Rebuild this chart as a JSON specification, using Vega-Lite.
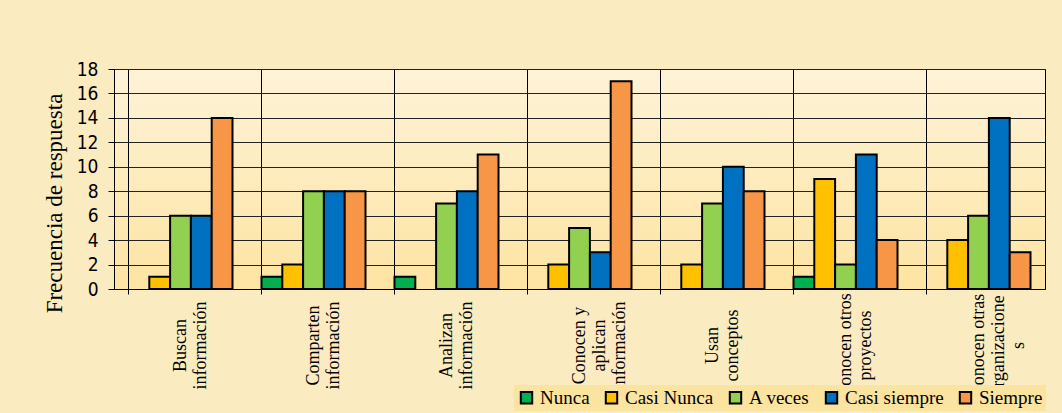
{
  "$schema": "https://vega.github.io/schema/vega-lite/v6.json",
  "width": 931,
  "height": 220,
  "autosize": {"type": "none"},
  "padding": {"left": 114, "top": 69, "right": 17, "bottom": 124},
  "background": "#FBEBC0",
  "data": {
    "values": [
      {"categoria": "Buscan|información", "respuesta": "Casi Nunca", "frecuencia": 1},
      {"categoria": "Buscan|información", "respuesta": "A veces", "frecuencia": 6},
      {"categoria": "Buscan|información", "respuesta": "Casi siempre", "frecuencia": 6},
      {"categoria": "Buscan|información", "respuesta": "Siempre", "frecuencia": 14},
      {"categoria": "Comparten|información", "respuesta": "Nunca", "frecuencia": 1},
      {"categoria": "Comparten|información", "respuesta": "Casi Nunca", "frecuencia": 2},
      {"categoria": "Comparten|información", "respuesta": "A veces", "frecuencia": 8},
      {"categoria": "Comparten|información", "respuesta": "Casi siempre", "frecuencia": 8},
      {"categoria": "Comparten|información", "respuesta": "Siempre", "frecuencia": 8},
      {"categoria": "Analizan|información", "respuesta": "Nunca", "frecuencia": 1},
      {"categoria": "Analizan|información", "respuesta": "A veces", "frecuencia": 7},
      {"categoria": "Analizan|información", "respuesta": "Casi siempre", "frecuencia": 8},
      {"categoria": "Analizan|información", "respuesta": "Siempre", "frecuencia": 11},
      {"categoria": "Conocen y|aplican|información", "respuesta": "Casi Nunca", "frecuencia": 2},
      {"categoria": "Conocen y|aplican|información", "respuesta": "A veces", "frecuencia": 5},
      {"categoria": "Conocen y|aplican|información", "respuesta": "Casi siempre", "frecuencia": 3},
      {"categoria": "Conocen y|aplican|información", "respuesta": "Siempre", "frecuencia": 17},
      {"categoria": "Usan|conceptos", "respuesta": "Casi Nunca", "frecuencia": 2},
      {"categoria": "Usan|conceptos", "respuesta": "A veces", "frecuencia": 7},
      {"categoria": "Usan|conceptos", "respuesta": "Casi siempre", "frecuencia": 10},
      {"categoria": "Usan|conceptos", "respuesta": "Siempre", "frecuencia": 8},
      {"categoria": "Conocen otros|proyectos", "respuesta": "Nunca", "frecuencia": 1},
      {"categoria": "Conocen otros|proyectos", "respuesta": "Casi Nunca", "frecuencia": 9},
      {"categoria": "Conocen otros|proyectos", "respuesta": "A veces", "frecuencia": 2},
      {"categoria": "Conocen otros|proyectos", "respuesta": "Casi siempre", "frecuencia": 11},
      {"categoria": "Conocen otros|proyectos", "respuesta": "Siempre", "frecuencia": 4},
      {"categoria": "Conocen otras|organizacione|s", "respuesta": "Casi Nunca", "frecuencia": 4},
      {"categoria": "Conocen otras|organizacione|s", "respuesta": "A veces", "frecuencia": 6},
      {"categoria": "Conocen otras|organizacione|s", "respuesta": "Casi siempre", "frecuencia": 14},
      {"categoria": "Conocen otras|organizacione|s", "respuesta": "Siempre", "frecuencia": 3}
    ]
  },
  "mark": {"type": "bar", "stroke": "black", "strokeWidth": 2},
  "encoding": {
    "x": {
      "field": "categoria",
      "type": "nominal",
      "sort": ["Buscan|información", "Comparten|información", "Analizan|información", "Conocen y|aplican|información", "Usan|conceptos", "Conocen otros|proyectos", "Conocen otras|organizacione|s"],
      "scale": {"paddingInner": 0.218, "paddingOuter": 0.109},
      "axis": {
        "title": null,
        "labelExpr": "split(datum.label, '|')",
        "labelAngle": 270,
        "labelAlign": "center",
        "labelBaseline": "middle",
        "labelPadding": 51,
        "labelFont": "Liberation Serif",
        "labelFontSize": 18,
        "labelLineHeight": 20,
        "labelColor": "black",
        "labelOverlap": false,
        "labelLimit": 0,
        "bandPosition": 0,
        "grid": true,
        "gridColor": "black",
        "gridOpacity": 1,
        "gridWidth": 1,
        "ticks": true,
        "tickSize": 5,
        "tickColor": "black",
        "domainColor": "black"
      }
    },
    "xOffset": {
      "field": "respuesta",
      "type": "nominal",
      "scale": {"domain": ["Nunca", "Casi Nunca", "A veces", "Casi siempre", "Siempre"], "paddingInner": 0, "paddingOuter": 0}
    },
    "y": {
      "field": "frecuencia",
      "type": "quantitative",
      "scale": {"domain": [0, 18]},
      "axis": {
        "title": "Frecuencia de respuesta",
        "values": [0, 2, 4, 6, 8, 10, 12, 14, 16, 18],
        "labelFont": "Liberation Sans Narrow, DejaVu Sans Condensed, Liberation Sans",
        "labelFontSize": 19,
        "labelColor": "black",
        "labelPadding": 10,
        "tickSize": 6,
        "tickColor": "black",
        "domainColor": "black",
        "gridColor": "#222222",
        "gridOpacity": 1,
        "titleFont": "Liberation Serif",
        "titleFontSize": 23,
        "titleFontWeight": "normal",
        "titleColor": "black",
        "titleAngle": 270,
        "titleAlign": "center",
        "titleBaseline": "middle",
        "titleX": -60,
        "titleY": 134
      }
    },
    "color": {
      "field": "respuesta",
      "type": "nominal",
      "scale": {
        "domain": ["Nunca", "Casi Nunca", "A veces", "Casi siempre", "Siempre"],
        "range": ["#00B050", "#FFC000", "#92D050", "#0070C0", "#F79646"]
      },
      "legend": {
        "title": null,
        "orient": "none",
        "legendX": 400,
        "legendY": 316,
        "direction": "horizontal",
        "symbolType": "square",
        "symbolSize": 130,
        "symbolStrokeColor": "black",
        "symbolStrokeWidth": 2,
        "symbolOpacity": 1,
        "labelFont": "Liberation Serif",
        "labelFontSize": 19,
        "labelColor": "black",
        "labelOffset": 4,
        "columnPadding": 11,
        "fillColor": "#FBE3A0",
        "padding": 3
      }
    }
  },
  "config": {
    "view": {
      "stroke": "black",
      "strokeWidth": 1,
      "fill": {
        "gradient": "linear",
        "x1": 0, "y1": 0, "x2": 0, "y2": 1,
        "stops": [
          {"offset": 0, "color": "#FEF3D8"},
          {"offset": 1, "color": "#FDE4A2"}
        ]
      }
    }
  }
}
